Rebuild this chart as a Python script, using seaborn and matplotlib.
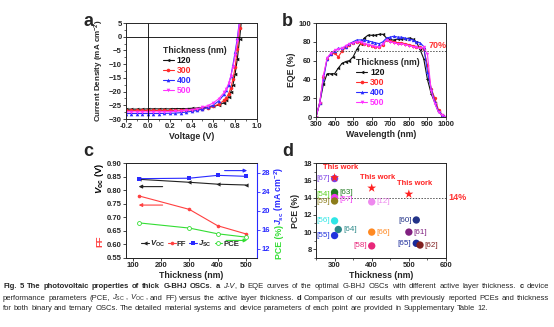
import numpy as np
import pandas as pd
import matplotlib
matplotlib.use("Agg")
import matplotlib.pyplot as plt
from matplotlib.lines import Line2D
from matplotlib.ticker import AutoMinorLocator
import seaborn as sns

sns.set_style("ticks")
plt.rcParams['font.family'] = ['Liberation Sans', 'DejaVu Sans']
plt.rcParams['mathtext.fontset'] = 'custom'
plt.rcParams['mathtext.rm'] = 'Liberation Sans'
plt.rcParams['mathtext.it'] = 'Liberation Sans:italic'
plt.rcParams['mathtext.bf'] = 'Liberation Sans:bold'
plt.rcParams['mathtext.bfit'] = 'Liberation Sans:bold:italic'
plt.rcParams['axes.linewidth'] = 0.7

# ---------------- data ----------------
thick_labels = ['120', '300', '400', '500']
thick_colors = ['#111111', '#ff2a2a', '#2a2aff', '#ff33ff']

# panel a: J-V
voltage = [-0.2, -0.15, -0.1, -0.05, 0.0, 0.05, 0.1, 0.15, 0.2, 0.25, 0.3, 0.35, 0.4, 0.45,
           0.5, 0.55, 0.6, 0.65, 0.7, 0.72, 0.74, 0.76, 0.78, 0.8, 0.82, 0.84, 0.86]
j_120 = [-26.4, -26.4, -26.4, -26.4, -26.3, -26.3, -26.3, -26.3, -26.3, -26.2, -26.2, -26.2, -26.1, -26.0,
         -25.9, -25.7, -25.4, -24.9, -24.0, -23.2, -22.0, -20.2, -17.5, -13.5, -8.0, -1.0, 7.0]
j_300 = [-26.9, -26.9, -26.9, -26.9, -26.9, -26.9, -26.9, -26.9, -26.9, -26.85, -26.8, -26.7, -26.6, -26.4,
         -26.2, -25.9, -25.4, -24.6, -23.2, -22.2, -20.8, -18.6, -15.5, -11.0, -4.5, 3.0, 10.0]
j_400 = [-28.0, -28.0, -28.0, -28.0, -28.0, -28.0, -28.0, -27.95, -27.9, -27.85, -27.7, -27.5, -27.2, -26.9,
         -26.4, -25.8, -24.9, -23.4, -21.0, -19.5, -17.5, -14.5, -10.2, -5.5, -0.5, 6.0, 13.0]
j_500 = [-27.4, -27.4, -27.4, -27.4, -27.4, -27.4, -27.4, -27.35, -27.3, -27.2, -27.1, -26.9, -26.6, -26.3,
         -25.8, -25.1, -24.1, -22.6, -20.3, -18.9, -17.0, -14.4, -11.0, -6.6, -1.5, 5.5, 13.0]

# panel b: EQE
wavelength = [300, 320, 340, 360, 380, 400, 420, 440, 460, 480, 500, 520, 540, 560, 580, 600, 620, 640,
              660, 680, 700, 720, 740, 760, 780, 800, 820, 840, 860, 880, 900, 920, 940, 960, 980, 1000]
eqe_120 = [0, 15, 35, 46, 46, 46, 52, 57, 59, 60, 64, 72, 78, 84, 87, 87, 87, 88,
           88, 84, 82, 82, 83, 83, 83, 84, 83, 80, 72, 62, 40, 25, 15, 5, 2, 0]
eqe_300 = [0, 15, 43, 62, 67, 68, 64, 70, 74, 77, 79, 80, 79, 78, 77, 76, 75, 74,
           77, 82, 81, 80, 79, 79, 78, 77, 76, 75, 74, 72, 55, 30, 20, 7, 2, 0]
eqe_400 = [0, 15, 40, 62, 67, 70, 73, 73, 75, 78, 80, 82, 82, 82, 81, 80, 79, 78,
           80, 84, 85, 86, 85, 85, 84, 83, 82, 80, 79, 75, 48, 30, 16, 6, 2, 0]
eqe_500 = [0, 15, 44, 63, 68, 71, 72, 73, 76, 78, 79, 80, 80, 78, 77, 76, 75, 74,
           78, 82, 80, 79, 78, 78, 77, 76, 75, 74, 73, 74, 67, 28, 14, 5, 2, 0]

# panel c: device parameters
thickness_c = [120, 300, 400, 500]
voc = [0.840, 0.829, 0.822, 0.819]
ff = [0.779, 0.729, 0.669, 0.639]
jsc = [26.7, 26.8, 27.4, 27.2]
pce = [17.4, 16.3, 15.1, 14.4]

# panel d: literature comparison
refs = ['[67]', '[54]', '[63]', '[57]', '[59]', '[12]', '[56]', '[64]', '[55]', '[66]', '[58]',
        '[60]', '[61]', '[65]', '[62]']
ref_thick = [300, 300, 300, 300, 300, 400, 300, 310, 300, 400, 400, 520, 500, 520, 530]
ref_pce = [16.2, 14.3, 14.6, 14.0, 13.6, 13.5, 11.3, 10.3, 9.6, 10.0, 8.4, 11.4, 10.0, 8.7, 8.5]
ref_colors = ['#7b3fe4', '#5ad01e', '#207a20', '#f03cf0', '#8c7d1a', '#ee88ee', '#2ee6e6', '#2a8888',
              '#2233dd', '#ff8820', '#e8287a', '#223388', '#802080', '#1a2a9a', '#802020']
ref_side = ['l', 'l', 'r', 'r', 'l', 'r', 'l', 'r', 'l', 'r', 'l', 'l', 'r', 'l', 'r']
this_thick = [300, 400, 500]
this_pce = [16.3, 15.1, 14.4]

# ---------------- figure ----------------
W, H = 554, 327
fig = plt.figure(figsize=(W / 100, H / 100), dpi=100)

def fax(l, t, r, b):
    return fig.add_axes([l / W, 1 - b / H, (r - l) / W, (b - t) / H])

axA = fax(126, 23, 257, 119)
axB = fax(316, 23, 446, 117)
axC = fax(126, 163, 257, 258)
axD = fax(316, 163, 446, 258)

TICK = 5.5
LAB = 6.3

def style(ax):
    ax.tick_params(axis='both', which='major', direction='out', length=2.2, width=0.6,
                   labelsize=TICK, pad=1)
    ax.tick_params(axis='both', which='minor', direction='out', length=1.2, width=0.5)
    for lbl in ax.get_xticklabels() + ax.get_yticklabels():
        lbl.set_fontweight('bold')
    for s in ax.spines.values():
        s.set_visible(True)
        s.set_linewidth(0.7)

# ---- panel a ----
rows = []
for lab, js in zip(thick_labels, [j_120, j_300, j_400, j_500]):
    for v, j in zip(voltage, js):
        rows.append((lab, v, j))
dfa = pd.DataFrame(rows, columns=['t', 'V', 'J'])
markers_a = dict(zip(thick_labels, ['<', 'o', '^', 'v']))
sns.lineplot(data=dfa, x='V', y='J', hue='t', style='t', markers=markers_a, dashes=False,
             palette=dict(zip(thick_labels, thick_colors)), linewidth=0.8, markersize=2.6,
             markeredgewidth=0, legend=False, ax=axA)
axA.axhline(0, color='k', lw=0.6)
axA.axvline(0, color='k', lw=0.6)
axA.set_xlim(-0.2, 1.0)
axA.set_ylim(-30, 5)
axA.set_xticks([-0.2, 0.0, 0.2, 0.4, 0.6, 0.8, 1.0])
axA.set_xticklabels(['-0.2', '0.0', '0.2', '0.4', '0.6', '0.8', '1.0'])
axA.set_yticks([5, 0, -5, -10, -15, -20, -25, -30])
axA.xaxis.set_minor_locator(AutoMinorLocator(2))
axA.yaxis.set_minor_locator(AutoMinorLocator(2))
axA.set_xlabel('Voltage (V)', fontsize=LAB, fontweight='bold', labelpad=1)
axA.set_ylabel(r'Current Density (mA cm$^{\mathbf{-2}}$)', fontsize=5.8, fontweight='bold', labelpad=2)
style(axA)

def thick_legend(ax, anchor, mk):
    handles = [Line2D([0], [0], color=c, lw=0.8, marker=m, markersize=2.6, markeredgewidth=0)
               for c, m in zip(thick_colors, mk)]
    leg = ax.legend(handles, thick_labels, title='Thickness (nm)', loc='upper left',
                    bbox_to_anchor=anchor, frameon=False, fontsize=6.2,
                    title_fontproperties={'weight': 'bold', 'size': 6.2},
                    handlelength=1.3, handletextpad=0.3, labelspacing=0.12, borderpad=0,
                    borderaxespad=0)
    leg._legend_box.align = 'left'
    for t, c in zip(leg.get_texts(), thick_colors):
        t.set_color(c)
        t.set_fontweight('bold')
    return leg

thick_legend(axA, (0.28, 0.76), ['<', 'o', '^', 'v'])

# ---- panel b ----
rows = []
for lab, es in zip(thick_labels, [eqe_120, eqe_300, eqe_400, eqe_500]):
    for w, e in zip(wavelength, es):
        rows.append((lab, w, e))
dfb = pd.DataFrame(rows, columns=['t', 'W', 'E'])
sns.lineplot(data=dfb, x='W', y='E', hue='t', style='t', markers=markers_a, dashes=False,
             palette=dict(zip(thick_labels, thick_colors)), linewidth=0.8, markersize=2.4,
             markeredgewidth=0, legend=False, ax=axB)
axB.axhline(70, color='#555555', lw=0.7, ls=(0, (1.5, 1.5)))
axB.text(905, 76, '70%', color='#ff3333', fontsize=6.5, fontweight='bold', va='center', ha='left')
axB.set_xlim(300, 1000)
axB.set_ylim(0, 100)
axB.set_xticks(range(300, 1001, 100))
axB.set_yticks(range(0, 101, 20))
axB.set_xlabel('Wavelength (nm)', fontsize=LAB, fontweight='bold', labelpad=1)
axB.set_ylabel('EQE (%)', fontsize=LAB, fontweight='bold', labelpad=2)
style(axB)
thick_legend(axB, (0.31, 0.63), ['<', 'o', '^', 'v'])

# ---- panel c ----
dfc = pd.DataFrame({'t': thickness_c, 'voc': voc, 'ff': ff, 'jsc': jsc, 'pce': pce})
C_BLK, C_RED, C_BLU, C_GRN = '#222222', '#ff4040', '#2a2aff', '#33dd33'
sns.lineplot(data=dfc, x='t', y='voc', color=C_BLK, marker='<', markersize=3, markeredgewidth=0,
             linewidth=0.8, ax=axC)
sns.lineplot(data=dfc, x='t', y='ff', color=C_RED, marker='o', markersize=2.6, markeredgewidth=0,
             linewidth=0.8, ax=axC)
axC2 = axC.twinx()
sns.lineplot(data=dfc, x='t', y='jsc', color=C_BLU, marker='s', markersize=2.6, markeredgewidth=0,
             linewidth=0.8, ax=axC2)
sns.lineplot(data=dfc, x='t', y='pce', color=C_GRN, marker='o', markersize=2.8, markerfacecolor='white',
             markeredgecolor=C_GRN, markeredgewidth=0.6, linewidth=0.8, ax=axC2)
axC.set_xlim(75, 540)
axC.set_ylim(0.55, 0.90)
axC.set_yticks([0.55, 0.60, 0.65, 0.70, 0.75, 0.80, 0.85, 0.90])
axC.set_yticklabels(['0.55', '0.60', '0.65', '0.70', '0.75', '0.80', '0.85', '0.90'])
axC.set_xticks([100, 200, 300, 400, 500])
axC2.set_ylim(10, 30)
axC2.set_yticks([12, 16, 20, 24, 28])
axC.set_xlabel('Thickness (nm)', fontsize=LAB, fontweight='bold', labelpad=1)
axC.set_ylabel('')
axC2.set_ylabel('')
style(axC)
axC2.tick_params(axis='y', direction='out', length=2.2, width=0.6, labelsize=TICK, pad=1,
                 colors=C_BLU)
for lbl in axC2.get_yticklabels():
    lbl.set_fontweight('bold')
axC2.spines['right'].set_color(C_BLU)
axC2.spines['right'].set_linewidth(0.8)
# arrows
arr = dict(arrowstyle='-|>', lw=0.8, mutation_scale=5, shrinkA=0, shrinkB=0)
axC.annotate('', xy=(120, 0.813), xytext=(205, 0.813), arrowprops=dict(color=C_BLK, **arr))
axC.annotate('', xy=(120, 0.745), xytext=(205, 0.745), arrowprops=dict(color=C_RED, **arr))
axC2.annotate('', xy=(505, 28.4), xytext=(425, 28.4), arrowprops=dict(color=C_BLU, **arr))
axC2.annotate('', xy=(505, 13.7), xytext=(430, 13.7), arrowprops=dict(color=C_GRN, **arr))
# legend
hc = [Line2D([0], [0], color=C_BLK, lw=0.8, marker='<', markersize=3, markeredgewidth=0),
      Line2D([0], [0], color=C_RED, lw=0.8, marker='o', markersize=2.6, markeredgewidth=0),
      Line2D([0], [0], color=C_BLU, lw=0.8, marker='s', markersize=2.6, markeredgewidth=0),
      Line2D([0], [0], color=C_GRN, lw=0.8, marker='o', markersize=2.8, markerfacecolor='white',
             markeredgecolor=C_GRN, markeredgewidth=0.6)]
lc = [r'$\mathbfit{V}_{\mathbf{OC}}$', 'FF', r'$\mathbfit{J}_{\mathbf{SC}}$', 'PCE']
legc = axC.legend(hc, lc, loc='center', bbox_to_anchor=(0.49, 0.15), ncol=4, frameon=False,
                  handlelength=1.0, handletextpad=0.15, columnspacing=0.35, borderpad=0,
                  prop={'weight': 'bold', 'size': 5.6})
# composite y labels
fig.text(100 / W, 1 - 178 / H, r'$\mathbfit{V}_{\mathbf{oc}}$ (V)', rotation=90, fontsize=LAB + 0.5,
         fontweight='bold', color='black', ha='center', va='center')
fig.text(100 / W, 1 - 241 / H, 'FF', rotation=90, fontsize=LAB + 0.5, fontweight='bold',
         color=C_RED, ha='center', va='center')
fig.text(279 / W, 1 - 196 / H, r'$\mathbfit{J}_{\mathbf{sc}}$ (mA cm$^{\mathbf{-2}}$)', rotation=90,
         fontsize=LAB, fontweight='bold', color=C_BLU, ha='center', va='center')
fig.text(279 / W, 1 - 242 / H, 'PCE (%)', rotation=90, fontsize=LAB, fontweight='bold',
         color=C_GRN, ha='center', va='center')

# ---- panel d ----
dfd = pd.DataFrame({'ref': refs, 'x': ref_thick, 'y': ref_pce})
sns.scatterplot(data=dfd, x='x', y='y', hue='ref', palette=dict(zip(refs, ref_colors)), s=28,
                edgecolor='none', legend=False, ax=axD, zorder=3)
dft = pd.DataFrame({'x': this_thick, 'y': this_pce})
sns.scatterplot(data=dft, x='x', y='y', marker='*', color='#ff2020', s=45, edgecolor='none',
                ax=axD, zorder=4)
for r, x, y, c, sd in zip(refs, ref_thick, ref_pce, ref_colors, ref_side):
    dy = -0.25 if r == '[57]' else 0
    if sd == 'l':
        axD.annotate(r, (x, y + dy), xytext=(-3.5, 0), textcoords='offset points', ha='right',
                     va='center', fontsize=5.8, color=c)
    else:
        axD.annotate(r, (x, y + dy), xytext=(3.5, 0), textcoords='offset points', ha='left',
                     va='center', fontsize=5.8, color=c)
for x, y in zip(this_thick, this_pce):
    axD.annotate('This work', (x, y), xytext=(4, 5), textcoords='offset points', ha='center',
                 va='bottom', fontsize=5.4, color='#ff2020', fontweight='bold')
axD.axhline(14, color='#555555', lw=0.7, ls=(0, (1.5, 1.5)))
axD.text(1.02, (14 - 7) / 11, '14%', transform=axD.transAxes, color='#ff3333', fontsize=6.5,
         fontweight='bold', va='center', ha='left')
axD.set_xlim(250, 600)
axD.set_ylim(7, 18)
axD.set_xticks([300, 400, 500, 600])
axD.set_yticks([8, 10, 12, 14, 16, 18])
axD.xaxis.set_minor_locator(AutoMinorLocator(2))
axD.yaxis.set_minor_locator(AutoMinorLocator(2))
axD.set_xlabel('Thickness (nm)', fontsize=LAB, fontweight='bold', labelpad=1)
axD.set_ylabel('PCE (%)', fontsize=LAB, fontweight='bold', labelpad=2)
style(axD)

# panel letters
for s, x, y in [('a', 83, 22), ('b', 282, 22), ('c', 83, 152), ('d', 282, 152)]:
    fig.text(x / W, 1 - y / H, s, fontsize=13, fontweight='bold', ha='left', va='center')

# ---- caption (justified) ----
CAP = 5.5
renderer = fig.canvas.get_renderer()

def tw(s, kw):
    t = fig.text(0, 0, s, fontsize=CAP, **kw)
    w = t.get_window_extent(renderer).width
    t.remove()
    return w

space_w = tw('x x', {}) - tw('xx', {})

def caption_line(y_px, runs, justify, x0=3, x1=549):
    words = []
    cur = []
    for text, kw in runs:
        parts = text.split(' ')
        for i, p in enumerate(parts):
            if i > 0:
                if cur:
                    words.append(cur)
                cur = []
            if p:
                cur.append((p, kw))
    if cur:
        words.append(cur)
    widths = [sum(tw(p, kw) for p, kw in wd) for wd in words]
    gap = space_w
    if justify and len(words) > 1:
        gap = max(space_w * 0.6, (x1 - x0 - sum(widths)) / (len(words) - 1))
    x = x0
    for wd, w in zip(words, widths):
        for p, kw in wd:
            t = fig.text(x / W, 1 - y_px / H, p, fontsize=CAP, va='center', ha='left', **kw)
            x += t.get_window_extent(renderer).width
        x += gap

B = {'fontweight': 'bold'}
N = {}
I = {'fontstyle': 'italic'}
line1 = [('Fig. 5 The photovoltaic properties of thick G-BHJ OSCs. ', B), ('a ', B), ('J-V', I), (', ', N),
         ('b ', B), ('EQE curves of the optimal G-BHJ OSCs with different active layer thickness. ', N),
         ('c ', B), ('device', N)]
line2 = [('performance parameters (PCE, ', N), (r'$J_{\mathrm{SC}}$', N), (', ', N),
         (r'$V_{\mathrm{OC}}$', N), (', and FF) versus the active layer thickness. ', N), ('d ', B),
         ('Comparison of our results with previously reported PCEs and thickness', N)]
line3 = [('for both binary and ternary OSCs. The detailed material systems and device parameters '
          'of each point are provided in Supplementary Table 12.', N)]
caption_line(287, line1, True)
caption_line(298, line2, True)
caption_line(309, line3, False)

fig.savefig('out.png', dpi=100)
